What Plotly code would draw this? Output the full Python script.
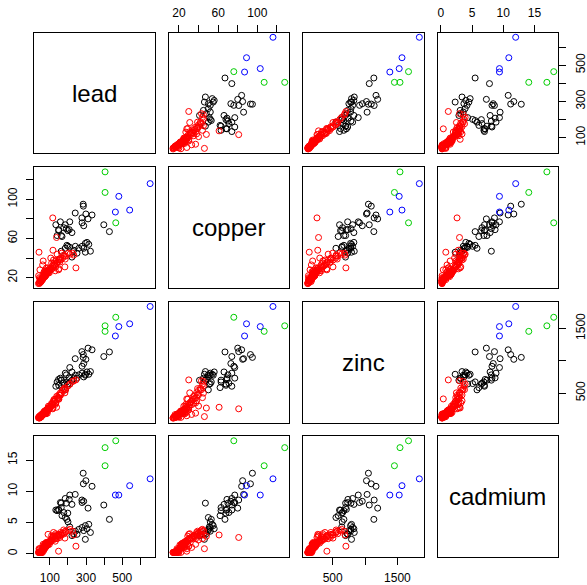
import plotly.graph_objects as go

# ---- data (lead, copper, zinc, cadmium) ----
# cluster codes: 1 = black, 2 = red, 3 = green, 4 = blue
lead = [299, 277, 199, 285, 240, 133, 148, 207, 284, 333, 311, 398, 429, 278, 210, 185, 191, 222, 158, 163,
        140, 149, 177, 167, 185, 194, 287, 241, 260, 278, 296, 315, 324, 296, 250, 232, 222, 287, 200, 163,
        210, 305,
        116, 117, 137, 40, 244, 148, 132, 150, 133, 80, 86, 97, 183, 130, 123, 110, 85, 80, 76, 73,
        76, 81, 68, 66, 72, 84, 75, 76, 118, 185, 211, 98, 56, 59, 97, 155, 124, 104, 126, 76,
        149, 187, 92, 52, 60, 112, 41, 47, 46, 42, 54, 58, 50, 77, 101, 90, 115, 170, 158, 144,
        128, 176, 180, 54, 71, 60, 75, 65, 70, 66, 72, 55, 77, 48, 45, 37, 49, 68, 85, 79,
        53, 48, 61, 67, 80, 72, 74, 70, 52, 90, 94, 51, 45, 55, 150, 160, 138, 201, 226, 232,
        60, 45, 63, 90, 105, 165, 140, 38, 42, 120,
        405, 405, 464,
        654, 481, 462, 541]
copper = [85, 81, 68, 93, 86, 74, 69, 69, 95, 84, 80, 74, 67, 76, 77, 74, 70, 66, 77, 63,
          63, 68, 71, 62, 50, 53, 73, 52, 50, 52, 55, 54, 47, 46, 45, 48, 41, 50, 52, 47,
          51, 56,
          81, 48, 61, 46, 30, 28, 31, 29, 37, 24, 25, 25, 31, 27, 35, 35, 24, 27, 23, 21,
          22, 30, 26, 24, 23, 26, 22, 26, 33, 39, 44, 27, 19, 20, 29, 36, 32, 28, 33, 22,
          38, 42, 25, 16, 18, 29, 15, 17, 19, 14, 18, 20, 17, 23, 28, 26, 31, 40, 38, 36,
          34, 43, 42, 17, 22, 19, 24, 21, 22, 20, 22, 18, 24, 16, 15, 14, 17, 21, 26, 24,
          18, 17, 19, 22, 25, 23, 22, 21, 17, 27, 28, 16, 15, 18, 39, 40, 35, 45, 45, 43,
          33, 28, 37, 30, 40, 45, 44, 22, 20, 38,
          128, 107, 76,
          116, 103, 87, 89]
zinc = [1022, 1141, 640, 1096, 1032, 606, 711, 735, 1052, 1169, 1195, 1065, 1136, 915, 895, 808, 782, 827, 731, 700,
        672, 621, 653, 585, 550, 673, 957, 776, 782, 808, 776, 791, 833, 791, 731, 725, 698, 750, 647, 700,
        640, 827,
        257, 269, 281, 137, 704, 410, 346, 406, 347, 183, 189, 251, 504, 326, 402, 343, 218, 200, 194, 207,
        180, 240, 180, 208, 198, 250, 192, 213, 321, 569, 638, 298, 167, 176, 258, 464, 365, 282, 375, 222,
        432, 550, 298, 167, 176, 331, 119, 130, 133, 113, 141, 158, 129, 206, 279, 241, 317, 545, 505, 420,
        400, 553, 577, 155, 224, 180, 226, 186, 198, 187, 199, 157, 203, 143, 136, 117, 130, 192, 240, 221,
        140, 128, 166, 191, 232, 203, 210, 198, 139, 253, 262, 142, 119, 152, 474, 471, 451, 612, 680, 690,
        170, 150, 190, 270, 300, 500, 430, 125, 128, 380,
        1540, 1454, 1672,
        1839, 1528, 1383, 1571]
cadmium = [11.7, 8.6, 6.5, 11.2, 9.5, 7.0, 7.1, 8.7, 12.9, 10.8, 7.3, 7.8, 5.5, 8.2, 9.4, 8.85, 8.1, 7.9, 8.2, 7.4,
           6.9, 6.97, 6.6, 6.1, 5.8, 5.5, 8.4, 3.6, 3.9, 4.2, 4.5, 4.7, 3.4, 2.3, 3.1, 3.2, 2.9, 3.7, 5.1, 8.1,
           4.3, 4.0,
           2.6, 2.8, 3.0, 0.8, 1.2, 0.4, 3.2, 2.8, 2.4, 1.6, 1.4, 1.8, 2.5, 2.0, 2.8, 2.9, 1.7, 1.8, 1.6, 1.4,
           1.3, 1.2, 1.1, 1.3, 1.6, 1.8, 1.2, 1.0, 2.7, 3.6, 3.9, 2.0, 0.4, 0.2, 1.5, 2.6, 2.3, 1.9, 2.4, 1.3,
           3.0, 3.5, 1.7, 0.2, 0.8, 2.2, 0.2, 0.4, 0.2, 0.2, 0.2, 0.6, 0.2, 1.1, 1.9, 1.4, 2.4, 3.3, 3.0, 2.9,
           2.6, 3.8, 3.2, 0.2, 1.0, 0.7, 1.2, 0.9, 0.8, 0.5, 1.1, 0.3, 1.3, 0.2, 0.2, 0.2, 0.2, 0.9, 1.6, 1.5,
           0.4, 0.2, 0.6, 1.0, 1.4, 1.2, 1.0, 0.9, 0.2, 1.7, 1.8, 0.3, 0.2, 0.4, 3.1, 3.4, 2.8, 3.7, 3.6, 3.0,
           1.0, 0.8, 1.5, 3.1, 2.2, 3.0, 2.4, 0.2, 0.6, 3.4,
           17.0, 14.1, 18.1,
           12.0, 9.4, 9.4, 10.9]
cluster = [1] * 42 + [2] * 110 + [3] * 3 + [4] * 4

var_names = ["lead", "copper", "zinc", "cadmium"]
palette = {1: "#000000", 2: "#FF0000", 3: "#00CD00", 4: "#0000FF"}

tick_vals = {
    "lead": [100, 200, 300, 400, 500, 600],
    "copper": [20, 40, 60, 80, 100, 120],
    "zinc": [500, 1000, 1500],
    "cadmium": [0, 5, 10, 15],
}
tick_text = {
    "lead": ["100", " ", "300", " ", "500", " "],
    "copper": ["20", " ", "60", " ", "100", " "],
    "zinc": ["500", " ", "1500"],
    "cadmium": ["0", "5", "10", "15"],
}

values = {"lead": lead, "copper": copper, "zinc": zinc, "cadmium": cadmium}

def rng(v):
    lo, hi = min(v), max(v)
    d = (hi - lo) * 0.04
    return [lo - d, hi + d]

W, H = 587, 585
xs = [34.0, 168.6, 303.2, 437.6]
ys = [32.8, 167.4, 302.0, 436.3]
S = 120.6

fig = go.Figure()
colors = [palette[c] for c in cluster]
font = "Liberation Sans, Arial, Helvetica, sans-serif"

layout = {}
annotations = []
for i in range(4):
    for j in range(4):
        k = i * 4 + j + 1
        xn, yn = var_names[j], var_names[i]
        xa = "x" if k == 1 else f"x{k}"
        ya = "y" if k == 1 else f"y{k}"
        xkey = "xaxis" if k == 1 else f"xaxis{k}"
        ykey = "yaxis" if k == 1 else f"yaxis{k}"
        xdict = dict(domain=[xs[j] / W, (xs[j] + S) / W], anchor=ya, range=rng(values[xn]),
                     showgrid=False, zeroline=False, showline=True, mirror=True,
                     linecolor="black", linewidth=1, showticklabels=False, ticks="",
                     fixedrange=True)
        ydict = dict(domain=[1 - (ys[i] + S) / H, 1 - ys[i] / H], anchor=xa, range=rng(values[yn]),
                     showgrid=False, zeroline=False, showline=True, mirror=True,
                     linecolor="black", linewidth=1, showticklabels=False, ticks="",
                     fixedrange=True)
        tickstyle = dict(ticks="outside", ticklen=7, tickwidth=1, tickcolor="black",
                         showticklabels=True, tickfont=dict(size=12, color="black", family=font))
        if i == 0 and j in (1, 3):
            xdict.update(tickstyle, side="top", tickvals=tick_vals[xn], ticktext=tick_text[xn],
                         ticklabelstandoff=3)
        if i == 3 and j in (0, 2):
            xdict.update(tickstyle, side="bottom", tickvals=tick_vals[xn], ticktext=tick_text[xn],
                         ticklabelstandoff=3)
        if j == 0 and i in (1, 3):
            ydict.update(tickstyle, side="left", tickvals=tick_vals[yn], ticktext=tick_text[yn],
                         tickangle=-90, ticklabelstandoff=4)
        if j == 3 and i in (0, 2):
            ydict.update(tickstyle, side="right", tickvals=tick_vals[yn], ticktext=tick_text[yn],
                         tickangle=-90, ticklabelstandoff=4)
        layout[xkey] = xdict
        layout[ykey] = ydict
        if i == j:
            annotations.append(dict(text=xn, x=(xs[j] + S / 2) / W, y=1 - (ys[i] + S / 2) / H,
                                    xref="paper", yref="paper", showarrow=False,
                                    xanchor="center", yanchor="middle",
                                    font=dict(size=24, color="black", family=font)))
            fig.add_trace(go.Scatter(x=[], y=[], mode="markers", xaxis=xa, yaxis=ya,
                                     showlegend=False, hoverinfo="skip"))
        else:
            fig.add_trace(go.Scatter(x=values[xn], y=values[yn], mode="markers", xaxis=xa, yaxis=ya,
                                     marker=dict(symbol="circle-open", size=6, color=colors,
                                                 line=dict(width=1, color=colors)),
                                     showlegend=False, hoverinfo="skip"))

fig.update_layout(**layout)
fig.update_layout(width=W, height=H, margin=dict(l=0, r=0, t=0, b=0), autosize=False,
                  paper_bgcolor="white", plot_bgcolor="white", annotations=annotations,
                  showlegend=False, font=dict(family=font, color="black"))
fig.write_html("out.html", config={"displayModeBar": False},
               post_script="document.body.style.margin='0';document.body.style.overflow='hidden';")
